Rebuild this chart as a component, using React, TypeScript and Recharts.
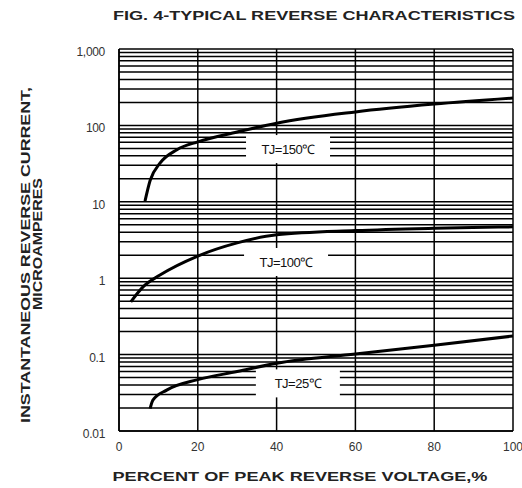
import React from 'react'
import { LineChart, Line, XAxis, YAxis, CartesianGrid, ReferenceDot } from 'recharts'

// percent of peak reverse voltage / reverse current (uA)
const volts150 = [6.6, 7.9, 10.4, 14.7, 20, 30, 40, 60, 80, 100]
const amps150 = [10.2, 19, 32, 48, 61, 82, 107, 150, 190, 228]

const volts100 = [3.0, 6.1, 10.4, 20, 30, 40, 60, 80, 100]
const amps100 = [0.49, 0.77, 1.1, 1.95, 2.9, 3.7, 4.2, 4.5, 4.7]

const volts25 = [7.9, 8.6, 12.1, 20, 30, 40, 60, 80, 100]
const amps25 = [0.0197, 0.0254, 0.0343, 0.047, 0.06, 0.077, 0.102, 0.133, 0.175]

const xTicks = [0, 20, 40, 60, 80, 100]
const decades = [0.01, 0.1, 1, 10, 100, 1000]
const decadeLabels = ['0.01', '0.1', '1', '10', '100', '1,000']
const minorSteps = [1, 2, 3, 4, 5, 6, 7, 8, 9]

const curveNames = ['TJ=150\u2103', 'TJ=100\u2103', 'TJ=25\u2103']
const curveLabelX = [42.9, 42.4, 45.4]
const curveLabelY = [49, 1.63, 0.042]

const FONT = '"Liberation Sans", Arial, Helvetica, sans-serif'

const toRows = (v: number[], a: number[]) => v.map((x, i) => ({ v: x, a: a[i] }))

const yTicks: number[] = []
decades.forEach((d, i) => {
  if (i === decades.length - 1) yTicks.push(d)
  else minorSteps.forEach((m) => yTicks.push(+(d * m).toPrecision(3)))
})

const YTick = (props: any) => {
  const { x, y, payload } = props
  const idx = decades.indexOf(payload.value)
  if (idx < 0) return null
  return (
    <text x={x - 6} y={y + 7} textAnchor="end" fontSize={12} fill="#333" fontFamily={FONT} letterSpacing={-0.3}>
      {decadeLabels[idx]}
    </text>
  )
}

const LabelBox = (name: string) => (props: any) => {
  const { cx, cy } = props
  return (
    <g>
      <rect x={cx - 42} y={cy - 14} width={84} height={28} fill="#fff" />
      <text x={cx} y={cy + 5} textAnchor="middle" fontSize={13} fill="#111" fontFamily={FONT} letterSpacing={-0.5}>
        {name}
      </text>
    </g>
  )
}

export default function App() {
  return (
    <div style={{ position: 'absolute', left: 0, top: 0, width: 522, height: 488, background: '#fff' }}>
      <LineChart width={522} height={488} margin={{ top: 49, right: 9, bottom: 27, left: 0 }}>
        <CartesianGrid stroke="#000" strokeWidth={1.5} />
        <XAxis
          type="number"
          dataKey="v"
          domain={[0, 100]}
          ticks={xTicks}
          height={30}
          tickLine={false}
          axisLine={{ stroke: '#000', strokeWidth: 1.5 }}
          tick={{ fontSize: 12, fill: '#333', fontFamily: FONT }}
          tickMargin={5}
          allowDataOverflow
        />
        <YAxis
          type="number"
          scale="log"
          domain={[0.01, 1000]}
          ticks={yTicks}
          width={119}
          interval={0}
          tickLine={false}
          axisLine={{ stroke: '#000', strokeWidth: 1.5 }}
          tick={<YTick />}
          allowDataOverflow
        />
        <Line data={toRows(volts150, amps150)} dataKey="a" type="monotone" stroke="#000" strokeWidth={3} dot={false} isAnimationActive={false} />
        <Line data={toRows(volts100, amps100)} dataKey="a" type="monotone" stroke="#000" strokeWidth={3} dot={false} isAnimationActive={false} />
        <Line data={toRows(volts25, amps25)} dataKey="a" type="monotone" stroke="#000" strokeWidth={3} dot={false} isAnimationActive={false} />
        {curveNames.map((n, i) => (
          <ReferenceDot key={n} x={curveLabelX[i]} y={curveLabelY[i]} r={0} shape={LabelBox(n)} ifOverflow="visible" />
        ))}
        <text x={314} y={20} textAnchor="middle" fontSize={13} fontWeight="bold" fill="#222" fontFamily={FONT} textLength={402} lengthAdjust="spacingAndGlyphs">
          FIG. 4-TYPICAL REVERSE CHARACTERISTICS
        </text>
        <text x={300} y={481} textAnchor="middle" fontSize={13} fontWeight="bold" fill="#222" fontFamily={FONT} textLength={375} lengthAdjust="spacingAndGlyphs">
          PERCENT OF PEAK REVERSE VOLTAGE,%
        </text>
        <text transform="translate(30,255) rotate(-90)" textAnchor="middle" fontSize={13} fontWeight="bold" fill="#222" fontFamily={FONT} textLength={336} lengthAdjust="spacingAndGlyphs">
          INSTANTANEOUS REVERSE CURRENT,
        </text>
        <text transform="translate(42,244) rotate(-90)" textAnchor="middle" fontSize={13} fontWeight="bold" fill="#222" fontFamily={FONT} textLength={132} lengthAdjust="spacingAndGlyphs">
          MICROAMPERES
        </text>
      </LineChart>
    </div>
  )
}
